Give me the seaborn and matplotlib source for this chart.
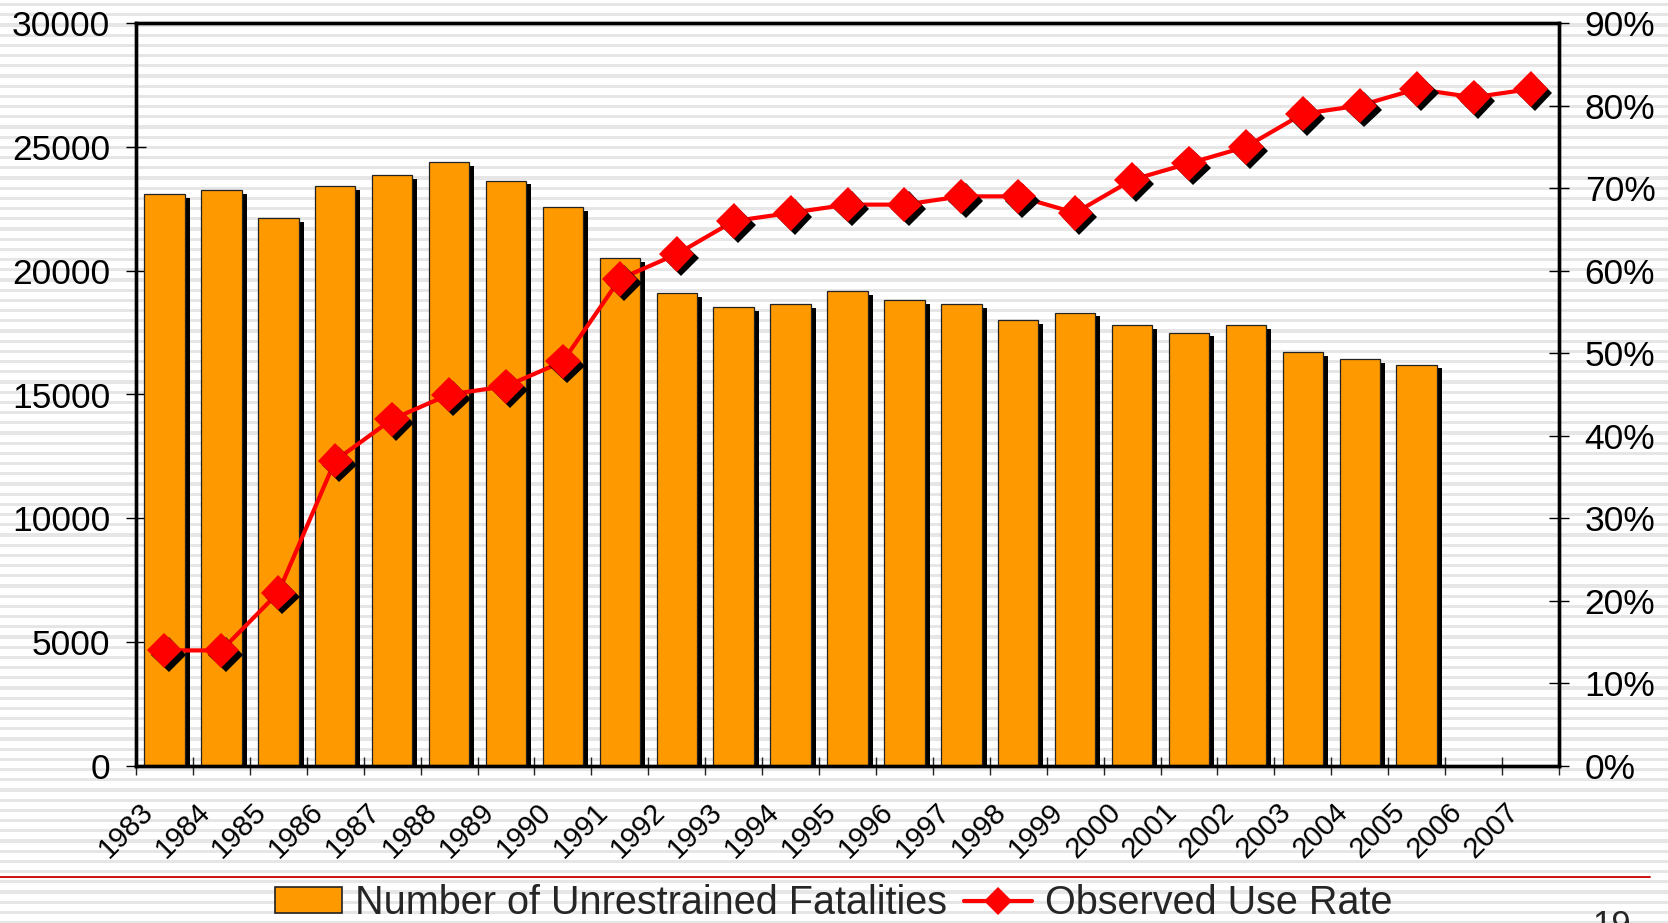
import numpy as np
import pandas as pd
import matplotlib
matplotlib.use('Agg')
import matplotlib.pyplot as plt
import matplotlib.patheffects as pe
import matplotlib.transforms as mtransforms
from matplotlib.patches import Patch
from matplotlib.lines import Line2D
from matplotlib.ticker import PercentFormatter
import seaborn as sns

years = [str(y) for y in range(1983, 2008)]
bar_years = [str(y) for y in range(1983, 2006)]
fatalities = [23100, 23250, 22130, 23400, 23850, 24370, 23630, 22560, 20500, 19080,
              18520, 18650, 19170, 18820, 18650, 18010, 18310, 17790, 17490, 17790,
              16720, 16420, 16200]
use_rate = [0.14, 0.14, 0.21, 0.37, 0.42, 0.45, 0.46, 0.49, 0.59, 0.62,
            0.66, 0.67, 0.68, 0.68, 0.69, 0.69, 0.67, 0.71, 0.73, 0.75,
            0.79, 0.80, 0.82, 0.81, 0.82]
left_ticks = list(range(0, 30001, 5000))
right_ticks = [i / 10 for i in range(10)]

orange = '#FF9900'
red = '#FF0000'

sns.set_style('ticks')
plt.rcParams['font.family'] = ['Liberation Sans', 'DejaVu Sans']

W, H = 1668, 923
fig = plt.figure(figsize=(W / 100, H / 100), dpi=100)
fig.patch.set_facecolor('white')

# striped slide background
bg = fig.add_axes([0, 0, 1, 1], zorder=-10)
bg.set_xlim(0, W)
bg.set_ylim(H, 0)
bg.axis('off')
for y in np.arange(3, H, 10.2):
    bg.axhspan(y, y + 3.2, color='#e6e6e6', lw=0)
bg.plot([0, 1650], [877, 877], color='#cc1111', lw=1.4)

ax = fig.add_axes([136 / W, 1 - 766 / H, (1559 - 136) / W, (766 - 23) / H])
ax.patch.set_alpha(0)

df_bar = pd.DataFrame({'year': bar_years, 'fatalities': fatalities})
sns.barplot(data=df_bar, x='year', y='fatalities', order=years, color=orange,
            saturation=1, width=0.71, edgecolor='#222222', linewidth=0.9, ax=ax)
for bar in ax.patches:
    bar.set_path_effects([pe.SimplePatchShadow(offset=(3.6, -2.6), shadow_rgbFace='black', alpha=1.0),
                          pe.Normal()])

ax2 = ax.twinx()
df_line = pd.DataFrame({'pos': np.arange(len(years)), 'rate': use_rate})
sns.lineplot(data=df_line, x='pos', y='rate', color=red, lw=3, ax=ax2)
ax2.plot(df_line['pos'], df_line['rate'], linestyle='none', marker='D', ms=18,
         color=red, markeredgewidth=0,
         path_effects=[pe.SimplePatchShadow(offset=(3, -3), shadow_rgbFace='black', alpha=1.0),
                       pe.Normal()])

ax.set_xlim(-0.5, len(years) - 0.5)
ax.set_ylim(0, 30000)
ax.set_yticks(left_ticks)
ax.set_yticklabels([str(v) for v in left_ticks])
ax2.set_ylim(0, 0.9)
ax2.set_yticks(right_ticks)
ax2.yaxis.set_major_formatter(PercentFormatter(1.0, decimals=0))

ax.set_xticks(range(len(years)))
ax.set_xticklabels(years, rotation=45, ha='right', va='center', rotation_mode='anchor')
ax.set_xticks(np.arange(-0.5, len(years), 1), minor=True)
ax.set_xlabel('')
ax.set_ylabel('')
ax2.set_xlabel('')
ax2.set_ylabel('')

ax.tick_params(axis='x', which='major', length=0, pad=30, labelsize=21, colors='black')
ax.tick_params(axis='x', which='minor', direction='inout', length=13, width=1, color='#222222')
ax.tick_params(axis='y', direction='inout', length=15, width=1, pad=11, labelsize=25.5,
               colors='black')
ax2.tick_params(axis='y', direction='inout', length=15, width=1, pad=11, labelsize=25.5,
                colors='black')

for a in (ax, ax2):
    for s in a.spines.values():
        s.set_visible(True)
        s.set_color('black')
        s.set_linewidth(2.4)

shift = mtransforms.ScaledTranslation(-16 / 100, 0, fig.dpi_scale_trans)
for lab in ax.get_xticklabels():
    lab.set_transform(lab.get_transform() + shift)

handles = [Patch(facecolor=orange, edgecolor='#222222', linewidth=1.2),
           Line2D([], [], color=red, lw=3, marker='D', ms=14, markeredgewidth=0)]
labels = ['Number of Unrestrained Fatalities', 'Observed Use Rate']
fig.legend(handles, labels, loc='center', bbox_to_anchor=(0.4997, 1 - 903 / H), ncol=2,
           frameon=False, fontsize=28.5, handlelength=1.7, handleheight=0.6,
           handletextpad=0.33, columnspacing=0.43, borderpad=0)

fig.text(1592 / W, -0.013, '19', fontsize=25, ha='left', va='baseline')

fig.savefig('out.png', dpi=100)
